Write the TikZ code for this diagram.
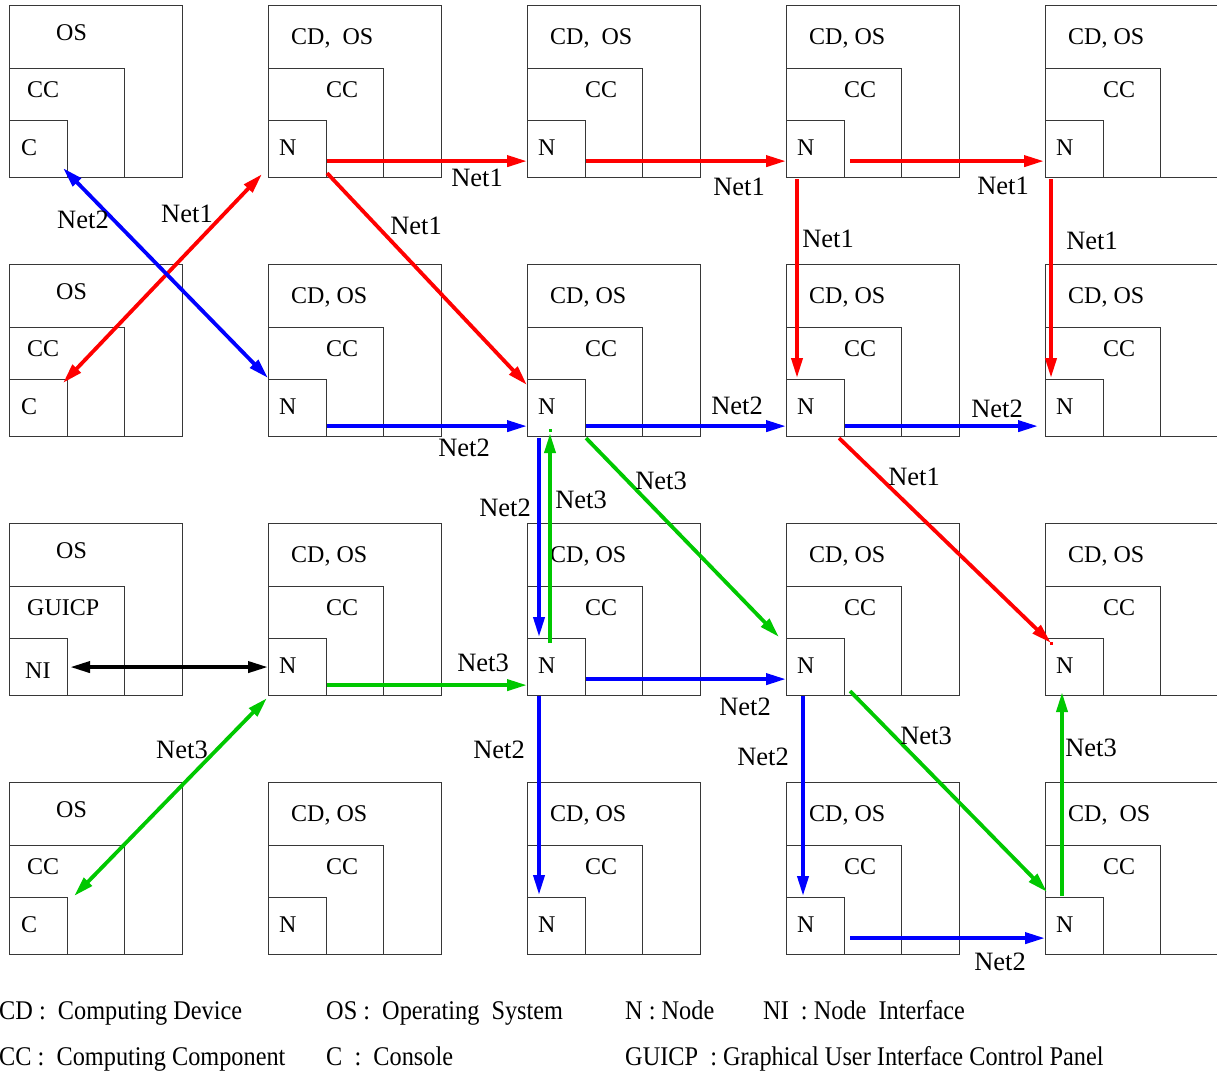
\documentclass[tikz,border=0pt]{standalone}
\usepackage{fontspec}
\setmainfont{Liberation Serif}
\newfontfamily\legendfont[FakeStretch=0.9]{Liberation Serif}
\usetikzlibrary{calc,arrows.meta}

\definecolor{netred}{RGB}{255,0,0}
\definecolor{netblue}{RGB}{0,0,255}
\definecolor{netgreen}{RGB}{0,200,0}
\definecolor{boxline}{RGB}{55,55,55}

% a computing device: outer OS box, CC box, node box (named #1)
\newcommand\ncell[4]{%
  \node[osbox] (#1os) at (#2,#3) {};
  \node[ccbox] (#1cc) at (#2,#3+63) {};
  \node[nbox] (#1) at (#2,#3+115) {};
  \node[lbl] (#1t1) at (#2+23,#3+39) {#4};
  \node[lbl] (#1t2) at (#2+58,#3+92) {CC};
  \node[lbl] (#1t3) at (#2+11,#3+150) {N};
}
% a console column cell: OS box, component box, console/interface box
\newcommand\ccell[7]{%
  \node[osbox] (#1os) at (#2,#3) {};
  \node[ccbox] (#1cc) at (#2,#3+63) {};
  \node[nbox] (#1) at (#2,#3+115) {};
  \node[lbl] (#1t1) at (#2+47,#3+35) {OS};
  \node[lbl] (#1t2) at (#2+18,#3+92) {#4};
  \node[lbl] (#1t3) at (#2+#6,#3+#7) {#5};
}

\begin{document}
\begin{tikzpicture}[x=1pt,y=-1pt,
  frame/.style={draw=boxline, line width=1.1pt, inner sep=0pt, anchor=north west},
  osbox/.style={frame, minimum width=173pt, minimum height=172pt},
  ccbox/.style={frame, minimum width=115pt, minimum height=109pt},
  nbox/.style={frame, minimum width=58pt, minimum height=57pt},
  lbl/.style={inner sep=0pt, anchor=base west, font=\fontsize{24}{28}\selectfont},
  netlbl/.style={inner sep=0pt, font=\fontsize{26.5}{30}\selectfont},
  leg/.style={inner sep=0pt, anchor=base west, font=\legendfont\fontsize{27}{30}\selectfont},
  link/.style={line width=3.8pt, -{Triangle[length=20pt,width=11pt]}},
  duallink/.style={line width=3.8pt, {Triangle[length=20pt,width=11pt]}-{Triangle[length=20pt,width=11pt]}},
]
\clip (0,0) rectangle (1217,1072);

% ---- row 0
\ccell{n00}{9}{5}{CC}{C}{12}{150}
\ncell{n01}{268}{5}{CD,\ \ OS}
\ncell{n02}{527}{5}{CD,\ \ OS}
\ncell{n03}{786}{5}{CD, OS}
\ncell{n04}{1045}{5}{CD, OS}
% ---- row 1
\ccell{n10}{9}{264}{CC}{C}{12}{150}
\ncell{n11}{268}{264}{CD, OS}
\ncell{n12}{527}{264}{CD, OS}
\ncell{n13}{786}{264}{CD, OS}
\ncell{n14}{1045}{264}{CD, OS}
% ---- row 2
\ccell{n20}{9}{523}{GUICP}{NI}{16}{155}
\ncell{n21}{268}{523}{CD, OS}
\ncell{n22}{527}{523}{CD, OS}
\ncell{n23}{786}{523}{CD, OS}
\ncell{n24}{1045}{523}{CD, OS}
% ---- row 3
\ccell{n30}{9}{782}{CC}{C}{12}{150}
\ncell{n31}{268}{782}{CD, OS}
\ncell{n32}{527}{782}{CD, OS}
\ncell{n33}{786}{782}{CD, OS}
\ncell{n34}{1045}{782}{CD,\ \ OS}

% ---- Net1
\draw[link,netred] ($(n01.south east)+(0,-17)$) -- ($(n02.south west)+(0,-17)$);
\draw[link,netred] ($(n02.south east)+(0,-17)$) -- ($(n03.south west)+(0,-17)$);
\draw[link,netred] ($(n03.south east)+(5,-17)$) -- ($(n04.south west)+(-1,-17)$);
\draw[link,netred] ($(n01.south east)+(0,-5)$) -- ($(n12.north west)+(0,6)$);
\draw[link,netred] ($(n03.south west)+(11,1)$) -- ($(n13.north west)+(11,-1)$);
\draw[link,netred] ($(n04.south west)+(6,1)$) -- ($(n14.north west)+(6,-1)$);
\draw[duallink,netred] ($(n10.north west)+(54,4)$) -- ($(n01.south west)+(-6,-4)$);
\draw[link,netred] ($(n13.south east)+(-6,1)$) -- ($(n24.north west)+(6,5)$);
\fill[netred] ($(n24.north west)+(5,4)$) rectangle +(3,3);

% ---- Net2
\draw[duallink,netblue] ($(n00.south east)+(-5,-10)$) -- ($(n11.north west)+(0,-1)$);
\draw[link,netblue] ($(n11.south east)+(0,-11)$) -- ($(n12.south west)+(0,-11)$);
\draw[link,netblue] ($(n12.south east)+(0,-11)$) -- ($(n13.south west)+(0,-11)$);
\draw[link,netblue] ($(n13.south east)+(0,-11)$) -- ($(n14.south west)+(-7,-11)$);
\draw[link,netblue] ($(n12.south west)+(12,1)$) -- ($(n22.north west)+(12,-1)$);
\draw[link,netblue] ($(n22.south east)+(0,-17)$) -- ($(n23.south west)+(0,-17)$);
\draw[link,netblue] ($(n22.south west)+(12,0)$) -- ($(n32.north west)+(12,-2)$);
\draw[link,netblue] ($(n23.south west)+(17,0)$) -- ($(n33.north west)+(17,-1)$);
\draw[link,netblue] ($(n33.south east)+(5,-17)$) -- ($(n34.south west)+(0,-17)$);

% ---- Net3
\draw[link,netgreen] ($(n22.north west)+(23,5)$) -- ($(n12.south west)+(23,-4)$);
\fill[netgreen] ($(n12.south west)+(21.5,-8)$) rectangle +(3,3);
\draw[link,netgreen] ($(n12.south east)+(0,1)$) -- ($(n23.north west)+(-7,-1)$);
\draw[link,netgreen] ($(n21.south east)+(0,-11)$) -- ($(n22.south west)+(0,-11)$);
\draw[duallink,netgreen] ($(n30.north east)+(6,-1)$) -- ($(n21.south west)+(-1,2)$);
\draw[link,netgreen] ($(n23.south east)+(5,-5)$) -- ($(n34.north west)+(2,-5)$);
\draw[link,netgreen] ($(n34.north west)+(17,-1)$) -- ($(n24.south west)+(17,-4)$);

% ---- GUI control panel to node
\draw[duallink,black] ($(n20.east)+(2,0)$) -- (n21.west);

% ---- link labels
\node[netlbl] (l1a) at (477,178) {Net1};
\node[netlbl] (l1b) at (739,187) {Net1};
\node[netlbl] (l1c) at (1003,186) {Net1};
\node[netlbl] (l1d) at (416,226) {Net1};
\node[netlbl] (l1e) at (828,239) {Net1};
\node[netlbl] (l1f) at (1092,241) {Net1};
\node[netlbl] (l1g) at (187,214) {Net1};
\node[netlbl] (l1h) at (914,477) {Net1};
\node[netlbl] (l2a) at (83,220) {Net2};
\node[netlbl] (l2b) at (464,448) {Net2};
\node[netlbl] (l2c) at (737,406) {Net2};
\node[netlbl] (l2d) at (997,409) {Net2};
\node[netlbl] (l2e) at (505,508) {Net2};
\node[netlbl] (l2f) at (745,707) {Net2};
\node[netlbl] (l2g) at (499,750) {Net2};
\node[netlbl] (l2h) at (763,757) {Net2};
\node[netlbl] (l2i) at (1000,962) {Net2};
\node[netlbl] (l3a) at (581,500) {Net3};
\node[netlbl] (l3b) at (661,481) {Net3};
\node[netlbl] (l3c) at (483,663) {Net3};
\node[netlbl] (l3d) at (182,750) {Net3};
\node[netlbl] (l3e) at (926,736) {Net3};
\node[netlbl] (l3f) at (1091,748) {Net3};

% ---- legend
\node[leg] (legcd) at (-1,1019) {CD :\ \ Computing Device};
\node[leg] (legos) at (326,1019) {OS :\ \ Operating\ \ System};
\node[leg] (legn) at (625,1019) {N : Node};
\node[leg] (legni) at (763,1019) {NI\ \ : Node\ \ Interface};
\node[leg] (legcc) at (-1,1065) {CC :\ \ Computing Component};
\node[leg] (legc) at (326,1065) {C\ \ :\ \ Console};
\node[leg] (leggui) at (625,1065) {GUICP\ \ : Graphical User Interface Control Panel};
\end{tikzpicture}
\end{document}
